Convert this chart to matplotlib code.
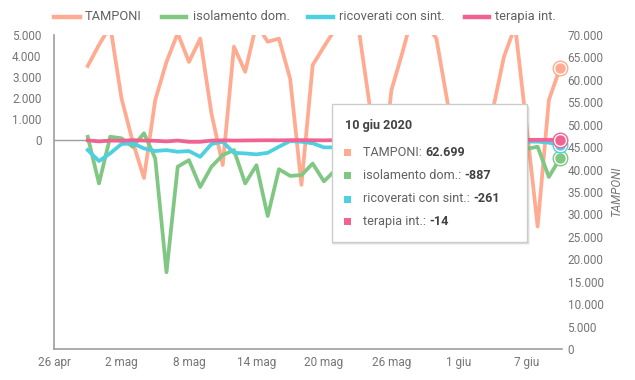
import numpy as np
import pandas as pd
import matplotlib
matplotlib.use('Agg')
import matplotlib.pyplot as plt
from matplotlib.lines import Line2D
from matplotlib.patches import Rectangle

plt.rcParams['font.family'] = ['Roboto', 'DejaVu Sans']

# daily changes, 29 apr -> 10 giu 2020
dates = pd.date_range('2020-04-29', '2020-06-10', freq='D')
tamponi = [63100, 67800, 72000, 55900, 46200, 38100, 55500, 64000, 70400, 64000,
           69200, 52500, 41000, 67400, 61800, 72500, 68500, 69200, 60200, 36600,
           63300, 67400, 71300, 74000, 72900, 55500, 35000, 57700, 66300, 75600,
           72700, 69200, 54800, 33000, 30000, 44000, 53100, 65100, 72000, 50000,
           27300, 55500, 62699]
isolamento = [130, -2100, 135, 60, -350, 300, -900, -6350, -1300, -985,
              -2270, -1300, -745, -505, -2100, -1230, -3660, -1420, -1740, -1700,
              -1150, -2000, -1470, -900, -1600, -1100, -2200, -1300, -800, -1500,
              -1000, -1200, -1900, -700, -1400, -900, -600, -500, -400, -450,
              -345, -1790, -887]
ricoverati = [-505, -1030, -660, -215, -185, -425, -550, -505, -585, -550,
              -825, -215, -105, -635, -665, -710, -635, -345, -70, -105,
              -180, -375, -375, -300, -250, -400, -350, -200, -150, -300,
              -250, -350, -200, -300, -250, -200, -150, -200, -150, -100,
              -100, -150, -261]
terapia = [-40, -90, -50, -60, -30, -50, -60, -90, -50, -110,
           -110, -50, -40, -50, -45, -40, -35, -40, -30, -30,
           -35, -40, -30, -30, -25, -30, -30, -25, -20, -25,
           -20, -25, -20, -20, -25, -20, -15, -20, -15, -15,
           -15, -20, -14]

labels = ['TAMPONI', 'isolamento dom.', 'ricoverati con sint.', 'terapia int.']
colors = ['#ffab91', '#81c784', '#4dd0e1', '#f06292']
tick_dates = pd.date_range('2020-04-26', periods=8, freq='6D')
tick_labels = ['26 apr', '2 mag', '8 mag', '14 mag', '20 mag', '26 mag', '1 giu', '7 giu']

W, H = 635, 380
fig = plt.figure(figsize=(W / 100, H / 100), dpi=100)
ax = fig.add_axes([54 / W, 1 - 349 / H, (562 - 54) / W, (349 - 35) / H])
ax2 = ax.twinx()
ax.set_zorder(ax2.get_zorder() + 1)
ax.patch.set_visible(False)

lw = 2.7
ax2.plot(dates, tamponi, color=colors[0], lw=lw, solid_joinstyle='round')
ax.axhline(0, color='#9e9e9e', lw=1, zorder=1)
ax.plot(dates, isolamento, color=colors[1], lw=lw, solid_joinstyle='round', zorder=2)
ax.plot(dates, ricoverati, color=colors[2], lw=lw, solid_joinstyle='round', zorder=3)
ax.plot(dates, terapia, color=colors[3], lw=lw, solid_joinstyle='round', zorder=4)

# hover markers on last point
last = dates[-1]
ax2.plot([last], [tamponi[-1]], 'o', ms=10.5, mfc='white', mec=colors[0], mew=1, clip_on=False)
ax2.plot([last], [tamponi[-1]], 'o', ms=6.5, color=colors[0], clip_on=False)
for vals, c, z in [(isolamento, colors[1], 5), (ricoverati, colors[2], 6), (terapia, colors[3], 7)]:
    ax.plot([last], [vals[-1]], 'o', ms=10.5, mfc='white', mec=c, mew=1, clip_on=False, zorder=z)
    ax.plot([last], [vals[-1]], 'o', ms=6.5, color=c, clip_on=False, zorder=z)

ax.set_xlim(pd.Timestamp('2020-04-26'), pd.Timestamp('2020-06-10 04:00'))
ax.set_ylim(-10020, 5000)
ax2.set_ylim(0, 70000)

def fmt(v):
    return '{:,}'.format(int(v)).replace(',', '.')

tick_col = '#757575'
ax.set_yticks(np.arange(0, 5001, 1000))
ax.set_yticklabels([fmt(v) for v in np.arange(0, 5001, 1000)])
ax2.set_yticks(np.arange(0, 70001, 5000))
ax2.set_yticklabels([fmt(v) for v in np.arange(0, 70001, 5000)])
ax.set_xticks(tick_dates)
ax.set_xticklabels(tick_labels)
ax.tick_params(axis='y', length=0, pad=9, labelsize=8.5, labelcolor=tick_col)
ax.tick_params(axis='x', length=0, pad=5, labelsize=8.5, labelcolor=tick_col)
ax2.tick_params(axis='y', length=0, pad=4, labelsize=8.5, labelcolor=tick_col)
ax2.set_ylabel('TAMPONI', fontsize=8.5, color=tick_col, style='italic', labelpad=5)

for a in (ax, ax2):
    for s in ['top', 'right']:
        a.spines[s].set_visible(False)
ax2.spines['left'].set_visible(False)
ax2.spines['bottom'].set_visible(False)
ax.spines['left'].set_color('#9e9e9e')
ax.spines['bottom'].set_color('#9e9e9e')
ax.spines['left'].set_linewidth(1.2)
ax.spines['bottom'].set_linewidth(1.2)

# legend on top
leg_pos = [(54, 80, 85), (162, 186, 193), (308, 333, 339), (465, 489, 495)]
for (x0, x1, xt), lab, c in zip(leg_pos, labels, colors):
    fig.add_artist(Line2D([x0 / W, x1 / W], [1 - 16.5 / H] * 2, color=c, lw=3.2,
                          transform=fig.transFigure))
    fig.text(xt / W, 1 - 16.5 / H, lab, fontsize=9.3, color='#616161', va='center', ha='left')

# tooltip
bx0, by0, bx1, by1 = 332, 104, 527, 242
for k, a in [(3, 0.05), (2, 0.08), (1, 0.12)]:
    fig.add_artist(Rectangle((bx0 / W, 1 - (by1 + k) / H), (bx1 - bx0 + k) / W, (by1 - by0) / H,
                             transform=fig.transFigure, color='black', alpha=a, lw=0, zorder=9))
fig.add_artist(Rectangle((bx0 / W, 1 - by1 / H), (bx1 - bx0) / W, (by1 - by0) / H,
                         transform=fig.transFigure, facecolor='white', edgecolor='#cccccc',
                         lw=1, zorder=10))
fs_tip = 9.1
fig.text(345 / W, 1 - 125 / H, '10 giu 2020', fontsize=fs_tip, fontweight='bold', color='#424242',
         va='center', ha='left', zorder=11)
fig.canvas.draw()
renderer = fig.canvas.get_renderer()
rows = [152.7, 175.7, 199, 221.7]
vals_txt = [fmt(tamponi[-1]), fmt(isolamento[-1]), fmt(ricoverati[-1]), fmt(terapia[-1])]
for y, lab, v, c in zip(rows, labels, vals_txt, colors):
    fig.add_artist(Rectangle(((347.7 - 3.5) / W, 1 - (y + 3.5) / H), 7 / W, 7 / H,
                             transform=fig.transFigure, color=c, lw=0, zorder=11))
    t = fig.text(363 / W, 1 - y / H, lab + ': ', fontsize=fs_tip, color='#616161',
                 va='center', ha='left', zorder=11)
    bb = t.get_window_extent(renderer)
    fig.text(bb.x1 / W, 1 - y / H, v, fontsize=fs_tip, fontweight='bold', color='#424242',
             va='center', ha='left', zorder=11)

plt.savefig('out.png', dpi=100)
